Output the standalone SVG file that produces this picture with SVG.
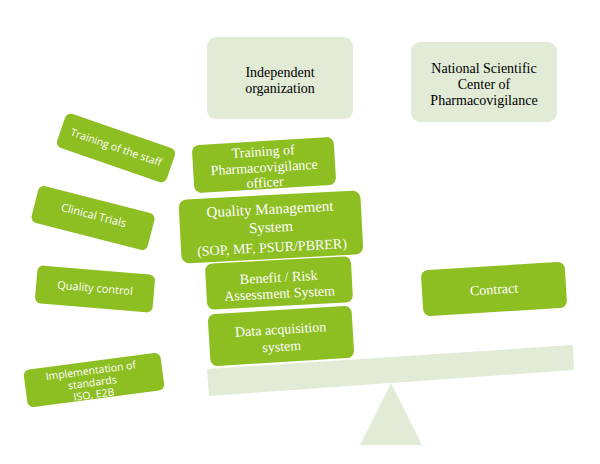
<svg xmlns="http://www.w3.org/2000/svg" width="600" height="464" viewBox="0 0 600 464">
<style>
.g{fill:#8dbe22}
.l{fill:#e1ebd5}
.s{font-family:"Liberation Serif",serif;font-size:14px;fill:#fff;text-anchor:middle}
.d{font-family:"Liberation Serif",serif;font-size:14px;fill:#000;text-anchor:middle}
.a{font-family:"Open Sans","DejaVu Sans",sans-serif;font-size:10.5px;fill:#fff;text-anchor:middle}
</style>
<rect width="600" height="464" fill="#fff"/>
<g id="seesaw">
<polygon class="l" points="207,369 573,345 574,370 209,396"/>
<polygon class="l" points="391,383 360,445 422,445"/>
</g>
<g id="independent">
<rect class="l" x="207" y="37" width="146" height="82" rx="9"/>
<text class="d" x="280" y="77">Independent</text>
<text class="d" x="280" y="93">organization</text>
</g>
<g id="national">
<rect class="l" x="411" y="42" width="146" height="80" rx="9"/>
<text class="d" x="484" y="73">National Scientific</text>
<text class="d" x="484" y="89">Center of</text>
<text class="d" x="484" y="105">Pharmacovigilance</text>
</g>
<g id="training-officer" transform="translate(264,165) rotate(-3.5)">
<rect class="g" x="-71" y="-24" width="142" height="48" rx="7"/>
<text class="s" x="0" y="-9">Training of</text>
<text class="s" x="0" y="7">Pharmacovigilance</text>
<text class="s" x="0" y="22">officer</text>
</g>
<g id="qms" transform="translate(271,228) rotate(-3)">
<rect class="g" x="-91" y="-33" width="182" height="64" rx="8"/>
<text class="s" x="0" y="-14" style="font-size:15px">Quality Management</text>
<text class="s" x="0" y="4" style="font-size:15px">System</text>
<text class="s" x="0" y="24">(SOP, MF, PSUR/PBRER)</text>
</g>
<g id="benefit" transform="translate(279,283) rotate(-3)">
<rect class="g" x="-73" y="-23" width="146" height="46" rx="7"/>
<text class="s" x="0" y="-1">Benefit / Risk</text>
<text class="s" x="0" y="15">Assessment System</text>
</g>
<g id="data" transform="translate(281,336) rotate(-3.5)">
<rect class="g" x="-72" y="-26" width="144" height="52" rx="7"/>
<text class="s" x="0" y="-2">Data acquisition</text>
<text class="s" x="0" y="15">system</text>
</g>
<g id="contract" transform="translate(494,289) rotate(-3.5)">
<rect class="g" x="-72" y="-23" width="144" height="46" rx="7"/>
<text class="s" x="0" y="5">Contract</text>
</g>
<g id="training-staff" transform="translate(116,148) rotate(19)">
<rect class="g" x="-58" y="-18" width="116" height="36" rx="6"/>
<text class="a" x="0" y="3">Training of the staff</text>
</g>
<g id="clinical" transform="translate(93,218) rotate(14.4)">
<rect class="g" x="-60" y="-19" width="120" height="38" rx="6"/>
<text class="a" x="0" y="1" style="font-size:11px">Clinical Trials</text>
</g>
<g id="quality-control" transform="translate(95,289) rotate(4.8)">
<rect class="g" x="-59" y="-19" width="118" height="38" rx="6"/>
<text class="a" x="0" y="3" style="font-size:11px">Quality control</text>
</g>
<g id="implementation" transform="translate(94,380) rotate(-7.5)">
<rect class="g" x="-69" y="-19" width="138" height="38" rx="6"/>
<text class="a" x="-2" y="-6">Implementation of</text>
<text class="a" x="-2" y="6">standards</text>
<text class="a" x="-2" y="18">ISO, E2B</text>
</g>
<g id="connectors"/>
</svg>
